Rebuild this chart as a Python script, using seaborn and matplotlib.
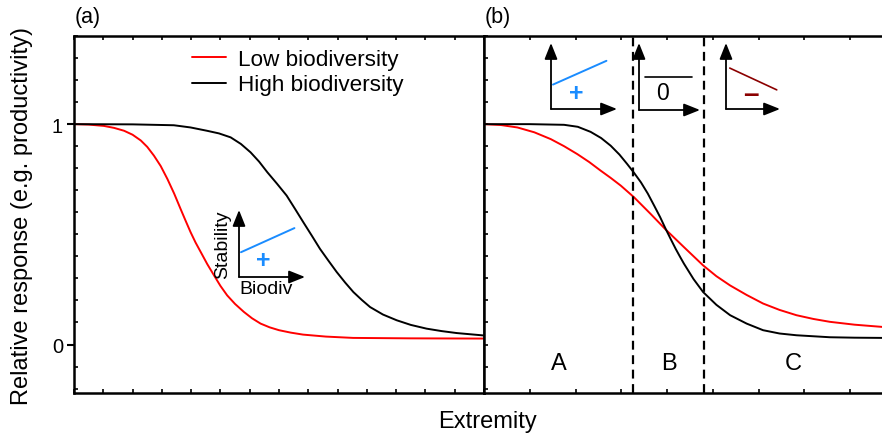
import numpy as np
import pandas as pd
import matplotlib
matplotlib.use("Agg")
import matplotlib.pyplot as plt
from matplotlib.ticker import MultipleLocator
import seaborn as sns

# curves, panel (a)
low_a_x = [0, 0.5, 1.02, 1.37, 1.71, 2.0, 2.28, 2.5, 2.73, 2.96, 3.19, 3.42, 3.64, 3.81, 3.98,
           4.15, 4.33, 4.55, 4.78, 5.0, 5.23, 5.5, 5.80, 6.08, 6.37, 6.68, 7.00, 7.4, 7.82, 8.6,
           9.53, 11.5, 14.0]
low_a_y = [1.0, 0.998, 0.992, 0.983, 0.970, 0.952, 0.926, 0.897, 0.857, 0.810, 0.751, 0.685,
           0.615, 0.562, 0.510, 0.463, 0.419, 0.365, 0.314, 0.266, 0.223, 0.184, 0.148, 0.119,
           0.095, 0.078, 0.065, 0.054, 0.045, 0.036, 0.030, 0.028, 0.027]
high_a_x = [0, 2.0, 3.41, 3.98, 4.54, 4.95, 5.35, 5.7, 6.03, 6.32, 6.60, 6.93, 7.26, 7.55, 7.83,
            8.12, 8.40, 8.69, 8.97, 9.26, 9.54, 9.83, 10.11, 10.55, 11.02, 11.5, 12.04, 12.55,
            13.07, 14.0]
high_a_y = [1.0, 0.999, 0.995, 0.985, 0.970, 0.958, 0.940, 0.910, 0.872, 0.830, 0.782, 0.730,
            0.676, 0.615, 0.555, 0.494, 0.434, 0.380, 0.329, 0.281, 0.238, 0.202, 0.170, 0.136,
            0.110, 0.089, 0.072, 0.061, 0.052, 0.041]

# panel (b)
low_b_x = [0, 0.37, 0.73, 1.1, 1.46, 1.75, 2.04, 2.3, 2.55, 2.77, 2.99, 3.28, 3.64, 3.97, 4.37,
           4.79, 5.08, 5.38, 5.74, 6.10, 6.46, 6.83, 7.2, 7.56, 8.1, 8.7]
low_b_y = [1.0, 0.996, 0.985, 0.963, 0.932, 0.900, 0.864, 0.828, 0.789, 0.756, 0.721, 0.668,
           0.593, 0.522, 0.442, 0.359, 0.310, 0.268, 0.225, 0.186, 0.157, 0.133, 0.116, 0.103,
           0.090, 0.080]
high_b_x = [0, 1.0, 1.75, 2.05, 2.33, 2.56, 2.77, 2.96, 3.13, 3.28, 3.43, 3.58, 3.72, 3.85, 3.97,
            4.08, 4.19, 4.28, 4.37, 4.58, 4.79, 5.08, 5.38, 5.74, 6.10, 6.46, 6.83, 7.56, 8.1, 8.7]
high_b_y = [1.0, 1.0, 0.997, 0.988, 0.965, 0.937, 0.902, 0.862, 0.819, 0.779, 0.736, 0.685,
            0.630, 0.578, 0.525, 0.479, 0.434, 0.400, 0.367, 0.297, 0.238, 0.180, 0.133, 0.095,
            0.065, 0.050, 0.042, 0.033, 0.031, 0.030]

groups = ["Low biodiversity", "High biodiversity"]
zone_edges = [3.26, 4.81]
zone_labels = ["A", "B", "C"]

# little schematic insets (x, y in inset units)
stab_x = [0.03, 0.84]
stab_y = [0.37, 0.73]
flat_x = [0.10, 0.87]
flat_y = [0.49, 0.49]
neg_x = [0.07, 0.94]
neg_y = [0.62, 0.29]

sns.set_style("ticks")
plt.rcParams["font.family"] = ["Liberation Sans", "DejaVu Sans"]
plt.rcParams.update({"text.color": "black", "axes.edgecolor": "black",
                     "xtick.color": "black", "ytick.color": "black",
                     "axes.labelcolor": "black"})

def make_df(lx, ly, hx, hy):
    return pd.concat([
        pd.DataFrame({"x": lx, "y": ly, "group": groups[0]}),
        pd.DataFrame({"x": hx, "y": hy, "group": groups[1]}),
    ], ignore_index=True)

df_a = make_df(low_a_x, low_a_y, high_a_x, high_a_y)
df_b = make_df(low_b_x, low_b_y, high_b_x, high_b_y)
pal = {groups[0]: "#ff0000", groups[1]: "black"}

W, H = 882, 439
def rect(x0, y_top, x1, y_bot):
    return [x0 / W, 1 - y_bot / H, (x1 - x0) / W, (y_bot - y_top) / H]

fig = plt.figure(figsize=(W / 100, H / 100), dpi=100)
ax1 = fig.add_axes(rect(74, 37, 484, 394))
ax2 = fig.add_axes(rect(484, 37, 882, 394))

sns.lineplot(data=df_a, x="x", y="y", hue="group", hue_order=groups, palette=pal,
             sort=False, estimator=None, lw=1.4, ax=ax1)
sns.lineplot(data=df_b, x="x", y="y", hue="group", hue_order=groups, palette=pal,
             sort=False, estimator=None, lw=1.4, legend=False, ax=ax2)

sns.move_legend(ax1, "upper left", bbox_to_anchor=((192 - 74) / 410, (394 - 50) / 357),
                title=None, frameon=False, fontsize=16.2, handlelength=1.5,
                handletextpad=0.53, labelspacing=0.2, borderpad=0, borderaxespad=0)

for ax, xmax in [(ax1, 14), (ax2, 398 / 45.75)]:
    ax.set_xlim(0, xmax)
    ax.set_ylim(-0.22, 1.40)
    ax.set_xlabel("")
    ax.set_ylabel("")
    ax.xaxis.set_major_locator(MultipleLocator(1))
    ax.yaxis.set_minor_locator(MultipleLocator(0.1))
    ax.tick_params(axis="x", which="major", direction="in", length=3, width=1.2,
                   top=True, bottom=True, labelbottom=False)
    ax.tick_params(axis="y", which="minor", direction="in", length=3, width=1.2)
    for s in ax.spines.values():
        s.set_linewidth(1.8)

ax1.set_yticks([0, 1])
ax1.set_yticklabels(["0", "1"])
ax1.tick_params(axis="y", which="major", direction="out", length=5, width=1.5,
                labelsize=14.5, pad=3)
ax2.set_yticks([0, 1])
ax2.tick_params(axis="y", which="major", direction="in", length=3, width=1.2, labelleft=False)
ax2.spines["right"].set_visible(False)

# zones in panel (b)
for xe in zone_edges:
    ax2.axvline(xe, color="black", lw=1.6, ls=(0, (4, 2.5)))
bounds = [0] + zone_edges + [ax2.get_xlim()[1]]
for i, lab in enumerate(zone_labels):
    ax2.text((bounds[i] + bounds[i + 1]) / 2, -0.086, lab, ha="center", va="center", fontsize=17)

# insets
arrow = dict(arrowstyle="-|>,head_length=0.65,head_width=0.26", color="black", lw=1.3,
             mutation_scale=15, shrinkA=0, shrinkB=0)

def mini(x0, y_top, x1, y_bot):
    ia = fig.add_axes(rect(x0, y_top, x1, y_bot))
    ia.set_xlim(0, 1)
    ia.set_ylim(0, 1)
    ia.axis("off")
    ia.patch.set_alpha(0)
    ia.annotate("", xy=(0, 1), xytext=(0, 0), arrowprops=arrow, annotation_clip=False)
    ia.annotate("", xy=(1, 0), xytext=(0, 0), arrowprops=arrow, annotation_clip=False)
    return ia

blue = "#1a8cff"
dred = "#8b0000"

ia = mini(239, 211, 305, 278)
ia.plot(stab_x, stab_y, color=blue, lw=1.4)
ia.text(0.37, 0.25, "+", color=blue, fontsize=18, fontweight="bold", ha="center", va="center")
ia.text(-0.25, 0.5, "Stability", rotation=90, ha="center", va="center", fontsize=14)
ia.text(0.41, -0.05, "Biodiv", ha="center", va="top", fontsize=14)

ib = mini(551, 44, 617, 110)
ib.plot(stab_x, stab_y, color=blue, lw=1.4)
ib.text(0.375, 0.24, "+", color=blue, fontsize=18, fontweight="bold", ha="center", va="center")

ic = mini(639, 44, 700, 111)
ic.plot(flat_x, flat_y, color="black", lw=1.2)
ic.text(0.38, 0.26, "0", fontsize=16.5, ha="center", va="center")

idd = mini(726, 44, 780, 110)
idd.plot(neg_x, neg_y, color=dred, lw=1.2)
idd.text(0.46, 0.22, "\u2013", color=dred, fontsize=20, fontweight="bold", ha="center", va="center")

fig.text(88 / W, 1 - 18 / H, "(a)", ha="center", va="center", fontsize=15.5)
fig.text(498 / W, 1 - 18 / H, "(b)", ha="center", va="center", fontsize=15.5)
fig.text(22 / W, 1 - 216 / H, "Relative response (e.g. productivity)", rotation=90,
         ha="center", va="center", fontsize=17)
fig.text(487 / W, 1 - 422 / H, "Extremity", ha="center", va="center", fontsize=17)

fig.savefig("out.png", dpi=100)
